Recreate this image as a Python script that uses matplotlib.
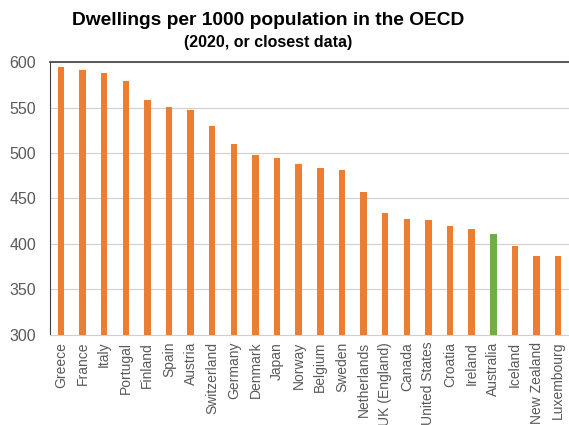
import matplotlib.pyplot as plt

countries = ['Greece', 'France', 'Italy', 'Portugal', 'Finland', 'Spain', 'Austria',
             'Switzerland', 'Germany', 'Denmark', 'Japan', 'Norway', 'Belgium', 'Sweden',
             'Netherlands', 'UK (England)', 'Canada', 'United States', 'Croatia', 'Ireland',
             'Australia', 'Iceland', 'New Zealand', 'Luxembourg']
dwellings = [595, 591, 588, 579, 558, 551, 547,
             530, 510, 498, 494, 488, 484, 481,
             457, 434, 427, 426, 420, 416,
             411, 398, 387, 387]
highlight = 'Australia'

orange = '#ED7D31'
green = '#70AD47'
colors = [green if c == highlight else orange for c in countries]

plt.rcParams['font.family'] = ['Liberation Sans', 'DejaVu Sans']

fig = plt.figure(figsize=(5.69, 4.25), dpi=100)
ax = fig.add_axes([0.088, 0.212, 0.912, 0.642])

x = range(len(countries))
ax.bar(x, [v - 300 for v in dwellings], bottom=300, width=0.3, color=colors, zorder=3)

ax.set_xlim(-0.5, len(countries) - 0.5)
ax.set_ylim(300, 600)
ax.set_yticks(range(300, 601, 50))
ax.set_xticks(list(x))
ax.set_xticklabels(countries, rotation=90, fontsize=10, color='#595959')
ax.tick_params(axis='y', labelsize=11.5, labelcolor='#595959', length=0, pad=10)
ax.tick_params(axis='x', length=0, pad=5)

ax.grid(axis='y', color='#D0D0D0', lw=0.8, zorder=0)
ax.spines['right'].set_visible(False)
ax.spines['bottom'].set_color('#D0D0D0')
ax.spines['left'].set_color('#404040')
ax.spines['top'].set_color('#404040')
ax.spines['top'].set_linewidth(1.2)

fig.text(0.471, 0.952, 'Dwellings per 1000 population in the OECD', ha='center', va='center',
         fontsize=13.8, fontweight='bold')
fig.text(0.471, 0.900, '(2020, or closest data)', ha='center', va='center',
         fontsize=11.5, fontweight='bold')

fig.savefig('out.png', dpi=100)
